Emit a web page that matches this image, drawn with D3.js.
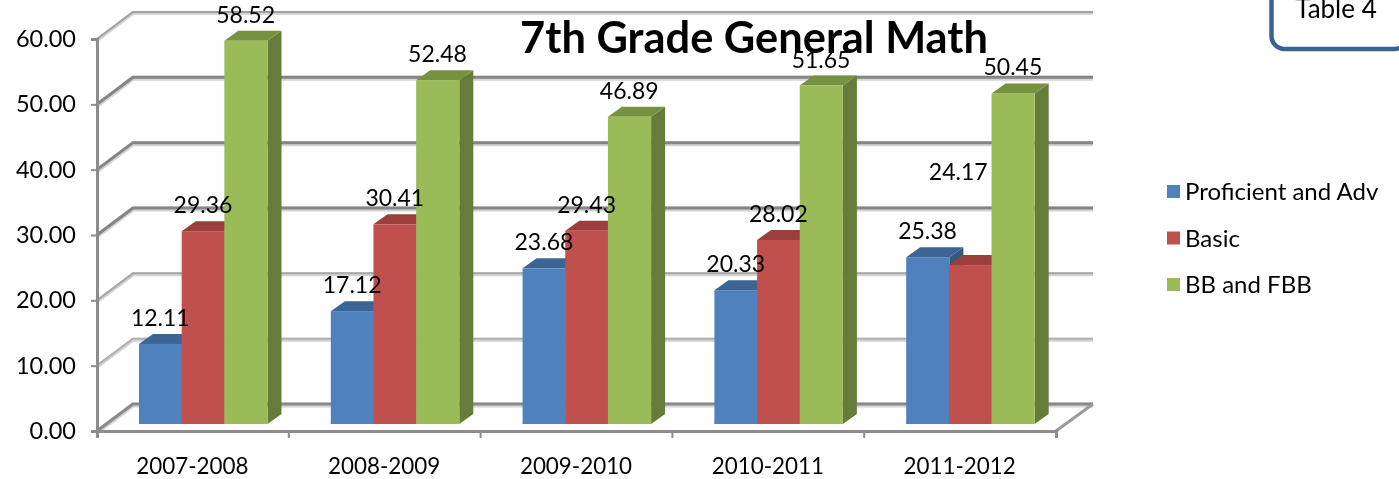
<!DOCTYPE html>
<html><head><meta charset="utf-8">
<script src="https://cdnjs.cloudflare.com/ajax/libs/d3/7.8.5/d3.min.js"></script>
<style>
html,body{margin:0;padding:0;background:#fff}
svg{display:block;filter:blur(0.45px)}
text{font-family:Lato,"Noto Sans",sans-serif;fill:#000}
</style></head><body><svg id="c" width="1399" height="479"></svg>
<script>
const years = ["2007-2008","2008-2009","2009-2010","2010-2011","2011-2012"];
const seriesNames = ["Proficient and Adv","Basic","BB and FBB"];
const proficient = [12.11,17.12,23.68,20.33,25.38];
const basic = [29.36,30.41,29.43,28.02,24.17];
const below = [58.52,52.48,46.89,51.65,50.45];
const fronts = ["#4f81bd","#c0504d","#9bbb59"];
const tops = ["#3c6594","#9b3f3d","#76913f"];
const sides = ["#35587f","#853634","#667c3a"];
const gridValues = [0,10,20,30,40,50,60];
const gridColors = ["#8a8a8a","#b0b0b0","#a8a8a8","#858585","#858585","#858585","#a0a0a0"];
const gridWidths = [4,3,3,4,4,4,3];

const svg = d3.select("#c");
const left=97,right=1056,base=431,topY=39;
const wallDx=36,wallDy=27, barLift=7, sideDx=14, sideDy=10;
const x = d3.scaleBand().domain(years).range([left,right]);
const y = d3.scaleLinear().domain([0,60]).range([base,topY]);
const inner = d3.scaleBand().domain(seriesNames).range([42,170]);
const all = [proficient,basic,below];

// gridlines on wall and side wall
const grid = svg.append("g");
gridValues.forEach((v,i)=>{
  const p = d3.path();
  p.moveTo(left,y(v)); p.lineTo(left+wallDx,y(v)-wallDy); p.lineTo(right+wallDx+1,y(v)-wallDy);
  grid.append("path").attr("d",p.toString()).attr("fill","none").attr("stroke","#d4d4d4").attr("stroke-width",gridWidths[i]+1).attr("transform","translate(0,1)");
  grid.append("path").attr("d",p.toString()).attr("fill","none").attr("stroke",gridColors[i]).attr("stroke-width",gridWidths[i]-1);
});
// floor right edge
grid.append("line").attr("x1",right).attr("y1",y(0)).attr("x2",right+wallDx+1).attr("y2",y(0)-wallDy)
  .attr("stroke","#9a9a9a").attr("stroke-width",3);

// axes
const yAxis = svg.append("g").attr("transform",`translate(${left},0)`)
  .call(d3.axisLeft(y).tickValues(gridValues).tickFormat(d3.format(".2f")).tickSize(6).tickPadding(15));
const xAxis = svg.append("g").attr("transform",`translate(0,${base})`)
  .call(d3.axisBottom(x).tickSize(7).tickPadding(20));
svg.selectAll(".domain").attr("stroke","#8c8c8c").attr("stroke-width",3);
svg.selectAll(".tick line").attr("stroke","#8c8c8c").attr("stroke-width",2);
yAxis.selectAll("text").attr("font-size",23.5).style("font-family","Lato");
xAxis.selectAll("text").attr("font-size",22.4).attr("dx",-0.5).style("font-family","Lato");
// boundary ticks on the category axis
const edgeTicks = x.domain().map(d=>x(d)).concat([right]);
xAxis.selectAll(".tick line").remove();
xAxis.selectAll(".edge").data(edgeTicks).join("line").attr("class","edge")
  .attr("x1",d=>d).attr("x2",d=>d).attr("y1",0).attr("y2",7).attr("stroke","#8c8c8c").attr("stroke-width",2);

// bars
const bars = svg.append("g");
const w = inner.bandwidth();
years.forEach((yr,c)=>{
  seriesNames.forEach((s,k)=>{
    const v = all[k][c];
    const x0 = x(yr)+inner(s), x1 = x0+w+0.5;
    const b = y(0)-barLift, t = y(v)-barLift-1;
    const g = bars.append("g");
    g.append("path").attr("fill",sides[k])
      .attr("d",`M${x1},${t}L${x1+sideDx},${t-sideDy}L${x1+sideDx},${b-sideDy}L${x1},${b}Z`);
    g.append("path").attr("fill",tops[k])
      .attr("d",`M${x0},${t}L${x0+sideDx},${t-sideDy}L${x1+sideDx},${t-sideDy}L${x1},${t}Z`);
    g.append("rect").attr("x",x0).attr("y",t).attr("width",x1-x0).attr("height",b-t).attr("fill",fronts[k]);
    g.append("rect").attr("x",x0).attr("y",b-2).attr("width",x1-x0).attr("height",2).attr("fill",fronts[k]).attr("opacity",.55);
  });
});

// value labels
const labels = svg.append("g");
const labelLift = 27;
years.forEach((yr,c)=>{
  seriesNames.forEach((s,k)=>{
    const v = all[k][c];
    const moved = k===1 && c===4;   // this label was dragged away from its bar in the original
    labels.append("text")
      .attr("x",x(yr)+inner(s)+w/2+(moved?-12:0))
      .attr("y",y(v)-barLift-labelLift+(moved?-67:0))
      .attr("dy","0.35em").attr("text-anchor","middle").attr("font-size",23)
      .text(d3.format(".2f")(v));
  });
});

// title
svg.append("text").attr("x",754).attr("y",38).attr("dy","0.35em").attr("text-anchor","middle")
  .attr("font-size",43.4).attr("font-weight",700).text("7th Grade General Math");

// legend
const legend = svg.append("g");
seriesNames.forEach((s,k)=>{
  const ly = 191+46.5*k;
  legend.append("rect").attr("x",1167).attr("y",ly-6).attr("width",13).attr("height",13).attr("fill",fronts[k]);
  legend.append("text").attr("x",1185).attr("y",ly+1).attr("dy","0.35em").attr("font-size",24).text(s);
});

// note box
svg.append("rect").attr("x",1271.5).attr("y",-30).attr("width",136).attr("height",79).attr("rx",13)
  .attr("fill","#fff").attr("stroke","#3c6291").attr("stroke-width",4.5);
svg.append("text").attr("x",1336).attr("y",9).attr("dy","0.35em").attr("text-anchor","middle").attr("font-size",26).text("Table 4");
</script></body></html>
